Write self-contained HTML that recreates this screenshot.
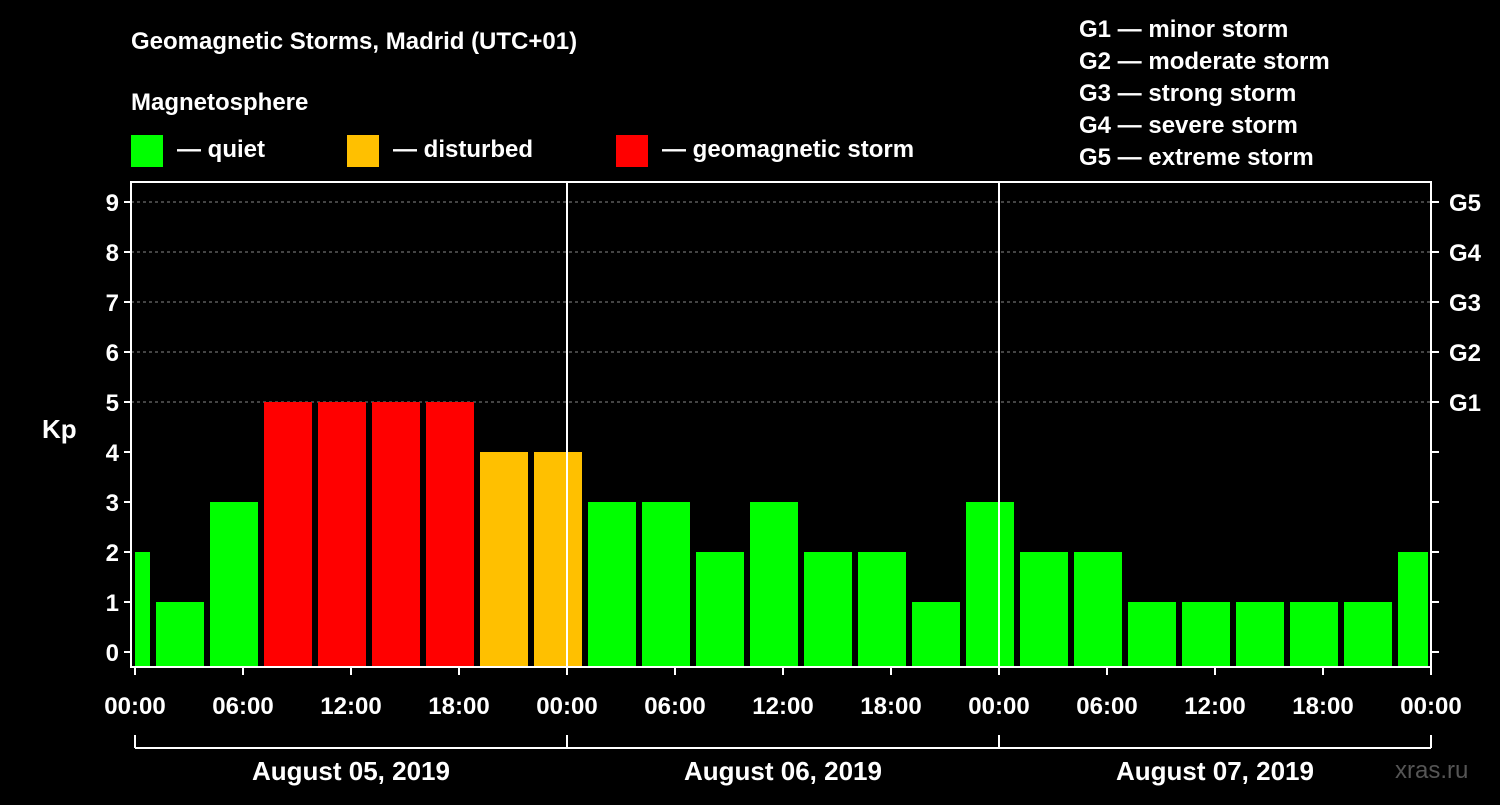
<!DOCTYPE html>
<html><head><meta charset="utf-8"><style>
body{margin:0;background:#000;width:1500px;height:800px;overflow:hidden}
svg text{font-family:"Liberation Sans",Arial,sans-serif;font-weight:bold;fill:#fff}
</style></head><body>
<svg id="c" width="1500" height="800">
<text x="131" y="49" font-size="24">Geomagnetic Storms, Madrid (UTC+01)</text>
<text x="131" y="110" font-size="24">Magnetosphere</text>
<rect x="131" y="135" width="32" height="32" fill="#00ff00"/>
<text x="177" y="157" font-size="24">— quiet</text>
<rect x="347" y="135" width="32" height="32" fill="#ffc000"/>
<text x="393" y="157" font-size="24">— disturbed</text>
<rect x="616" y="135" width="32" height="32" fill="#ff0000"/>
<text x="662" y="157" font-size="24">— geomagnetic storm</text>
<g font-size="24">
<text x="1079" y="37">G1 — minor storm</text>
<text x="1079" y="69">G2 — moderate storm</text>
<text x="1079" y="101">G3 — strong storm</text>
<text x="1079" y="133">G4 — severe storm</text>
<text x="1079" y="165">G5 — extreme storm</text>
</g>
<text x="42" y="438" font-size="26">Kp</text>
<text x="1395" y="778" font-size="24" fill="#555" style="fill:#555;font-weight:normal">xras.ru</text>
<g id="plot"></g>
</svg>
<script>
const kpValues=[2,1,3,5,5,5,5,4,4,3,3,2,3,2,2,1,3,2,2,1,1,1,1,1,2];
const hourTicks=["00:00","06:00","12:00","18:00","00:00","06:00","12:00","18:00","00:00","06:00","12:00","18:00","00:00"];
const dayLabels=["August 05, 2019","August 06, 2019","August 07, 2019"];
const gLabels=["G1","G2","G3","G4","G5"];
const NS="http://www.w3.org/2000/svg";
const g=document.getElementById('plot');
const X0=135,PXH=18,L=131,R=1431,T=182,B=667;
const xs=h=>X0+h*PXH;
const ys=v=>652-50*v;
function mk(t,a,txt){const e=document.createElementNS(NS,t);for(const k in a)e.setAttribute(k,a[k]);if(txt!==undefined)e.textContent=txt;g.appendChild(e);return e;}
// gridlines
for(let v=5;v<=9;v++){
 const l=mk('line',{x1:L,x2:R,y1:ys(v),y2:ys(v),stroke:'#888','stroke-dasharray':'3,3','stroke-width':1});
 
 
}
// bars
kpValues.forEach((v,i)=>{
 let a=xs(3*i-2)+3,b=xs(3*i+1)-3;
 a=Math.max(a,X0);b=Math.min(b,R-3);
 const col=v>=5?'#ff0000':(v>=4?'#ffc000':'#00ff00');
 const r=mk('rect',{x:a,y:ys(v),width:b-a,height:B-ys(v),fill:col});
 
 
});
// frame
const f=mk('rect',{x:L,y:T,width:R-L,height:B-T,fill:'none',stroke:'#fff','stroke-width':2});


for(let d=1;d<3;d++){
 const l=mk('line',{x1:xs(24*d),x2:xs(24*d),y1:T,y2:B,stroke:'#fff','stroke-width':2});
 
 
}
// y ticks
for(let v=0;v<=9;v++){
 const y=ys(v);
 mk('line',{x1:L-7,x2:L,y1:y,y2:y,stroke:'#fff','stroke-width':2});
 mk('line',{x1:R,x2:R+8,y1:y,y2:y,stroke:'#fff','stroke-width':2});
 const t=mk('text',{x:L-12,y:y+9,'font-size':24,'text-anchor':'end'},String(v));
 
 
 if(v>=5){
  const gt=mk('text',{x:1449,y:y+9,'font-size':24},gLabels[v-5]);
  
  
 }
}
// x ticks
hourTicks.forEach((s,i)=>{
 const x=xs(6*i);
 mk('line',{x1:x,x2:x,y1:B,y2:B+8,stroke:'#fff','stroke-width':2});
 const t=mk('text',{x:x,y:714,'font-size':24,'text-anchor':'middle'},s);
 
 
});
mk('line',{x1:xs(0),x2:xs(72),y1:748,y2:748,stroke:'#fff','stroke-width':2});
for(let d=0;d<=3;d++)mk('line',{x1:xs(24*d),x2:xs(24*d),y1:735,y2:748,stroke:'#fff','stroke-width':2});
dayLabels.forEach((s,i)=>{
 const t=mk('text',{x:xs(24*i+12),y:780,'font-size':26,'text-anchor':'middle'},s);
 
 
});
</script>
</body></html>
